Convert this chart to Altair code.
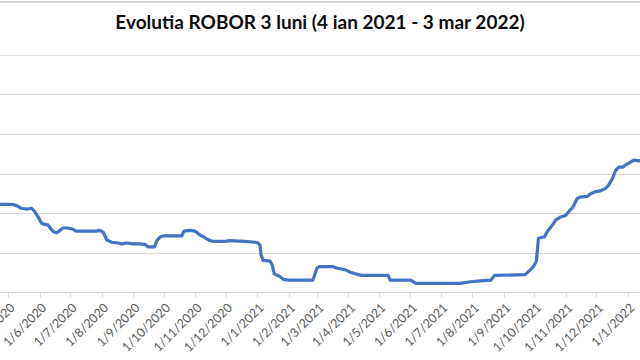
import altair as alt
import pandas as pd

dates = [
    "2020-04-23", "2020-05-05", "2020-05-10", "2020-05-14", "2020-05-20", "2020-05-24",
    "2020-05-27", "2020-05-30", "2020-06-03", "2020-06-05", "2020-06-09", "2020-06-12",
    "2020-06-15", "2020-06-18", "2020-06-21", "2020-06-24", "2020-06-28", "2020-07-03",
    "2020-07-07", "2020-07-27", "2020-07-29", "2020-08-01", "2020-08-03", "2020-08-06",
    "2020-08-11", "2020-08-17", "2020-08-21", "2020-08-26", "2020-09-01", "2020-09-08",
    "2020-09-13", "2020-09-16", "2020-09-22", "2020-09-25", "2020-09-28", "2020-10-01",
    "2020-10-19", "2020-10-21", "2020-10-27", "2020-11-01", "2020-11-03", "2020-11-06",
    "2020-11-09", "2020-11-14", "2020-11-19", "2020-12-01", "2020-12-05", "2020-12-20",
    "2020-12-30", "2021-01-02", "2021-01-04", "2021-01-05", "2021-01-07", "2021-01-14",
    "2021-01-16", "2021-01-18", "2021-01-23", "2021-01-27", "2021-02-01", "2021-02-12",
    "2021-02-25", "2021-03-01", "2021-03-03", "2021-03-17", "2021-03-21", "2021-03-29",
    "2021-04-03", "2021-04-08", "2021-04-14", "2021-05-10", "2021-05-12", "2021-06-01",
    "2021-06-04", "2021-06-06", "2021-06-30", "2021-07-20", "2021-07-30", "2021-08-09",
    "2021-08-19", "2021-08-23", "2021-09-22", "2021-09-27", "2021-09-30", "2021-10-03",
    "2021-10-04", "2021-10-05", "2021-10-11", "2021-10-14", "2021-10-19", "2021-10-22",
    "2021-10-27", "2021-11-01", "2021-11-04", "2021-11-07", "2021-11-09", "2021-11-12",
    "2021-11-15", "2021-11-22", "2021-11-25", "2021-11-30", "2021-12-05", "2021-12-10",
    "2021-12-13", "2021-12-17", "2021-12-20", "2021-12-23", "2021-12-27", "2021-12-30",
    "2022-01-02", "2022-01-07", "2022-01-12", "2022-01-19",
]
robor = [
    2.61, 2.61, 2.59, 2.56, 2.55, 2.56,
    2.52, 2.46, 2.37, 2.36, 2.35, 2.30,
    2.26, 2.25, 2.28, 2.31, 2.31, 2.30,
    2.27, 2.27, 2.28, 2.27, 2.25, 2.16,
    2.13, 2.12, 2.11, 2.12, 2.11, 2.11,
    2.10, 2.07, 2.07, 2.16, 2.20, 2.21,
    2.21, 2.27, 2.28, 2.27, 2.25, 2.22,
    2.20, 2.16, 2.14, 2.14, 2.15, 2.14,
    2.13, 2.12, 2.09, 1.97, 1.90, 1.89,
    1.84, 1.73, 1.70, 1.66, 1.65, 1.65,
    1.65, 1.80, 1.82, 1.82, 1.80, 1.78,
    1.75, 1.73, 1.71, 1.71, 1.65, 1.65,
    1.63, 1.61, 1.61, 1.61, 1.63, 1.64,
    1.65, 1.71, 1.72, 1.78, 1.82, 1.89,
    2.03, 2.18, 2.20, 2.27, 2.35, 2.41,
    2.45, 2.47, 2.52, 2.56, 2.60, 2.68,
    2.70, 2.71, 2.74, 2.77, 2.78, 2.81,
    2.85, 2.94, 3.04, 3.08, 3.08, 3.11,
    3.13, 3.17, 3.16, 3.20,
]
tick_months = [(2020, m) for m in range(5, 13)] + [(2021, m) for m in range(1, 13)] + [(2022, 1)]
y_grid = [1.5, 2.0, 2.5, 3.0, 3.5, 4.0, 4.5]

df = pd.DataFrame({"data": dates, "robor": robor})

line = alt.Chart(df).mark_line(
    clip=True, color="#4472C4", strokeWidth=3.2, strokeJoin="round", strokeCap="round"
).encode(
    x=alt.X(
        "data:T",
        scale=alt.Scale(
            type="utc",
            domain=[alt.DateTime(year=2020, month=4, date=23, utc=True),
                    alt.DateTime(year=2022, month=1, date=13, utc=True)],
        ),
        axis=alt.Axis(
            title=None,
            values=[alt.DateTime(year=y, month=m, date=1, utc=True) for y, m in tick_months],
            format="%-d/%-m/%Y",
            labelAngle=-45,
            labelFont="Lato",
            labelFontSize=12.5,
            labelColor="#595959",
            labelPadding=4,
            labelOverlap=False,
            labelFlush=False,
            labelBound=False,
            domainColor="#d9d9d9",
            domainWidth=1,
            tickColor="#d9d9d9",
            tickSize=5,
            grid=False,
        ),
    ),
    y=alt.Y(
        "robor:Q",
        scale=alt.Scale(domain=[1.5, 4.5], nice=False, zero=False),
        axis=alt.Axis(
            title=None, labels=False, ticks=False, domain=False,
            values=y_grid, grid=True, gridColor="#d9d9d9", gridWidth=1,
        ),
    ),
)

border = alt.Chart(df).mark_rule(color="#d9d9d9", strokeWidth=1).encode(
    x=alt.value(0), x2=alt.value(640), y=alt.value(-53)
)

chart = alt.layer(border, line).properties(
    width=640,
    height=237,
    autosize=alt.AutoSizeParams(type="none"),
    padding={"left": 0, "right": 0, "top": 55, "bottom": 68},
    title=alt.TitleParams(
        "Evolutia ROBOR 3 luni (4 ian 2021 - 3 mar 2022)",
        font="Lato", fontSize=19, fontWeight="bold", color="#0d0d0d",
        anchor="middle", offset=-31,
    ),
).configure_view(stroke=None)

chart.save("out.html", embed_options={"renderer": "svg", "actions": False})
